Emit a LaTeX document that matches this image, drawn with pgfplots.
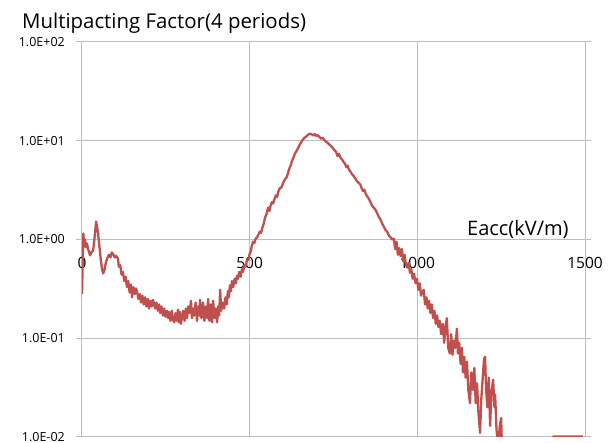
\documentclass[border=0pt]{standalone}
\usepackage{pgfplots}
\pgfplotsset{compat=1.18}
\usepackage{fontspec}
\setmainfont{Open Sans}
\definecolor{curve}{RGB}{192,80,77}
\definecolor{gridc}{RGB}{190,190,190}
\begin{document}
\begin{tikzpicture}
\begin{axis}[
  scale only axis, width=503pt, height=395pt,
  ymode=log, xmin=0, xmax=1500, ymin=0.01, ymax=100,
  xtick={0,500,1000,1500}, xticklabels={0,500,1000,1500},
  ytick={0.01,0.1,1,10,100},
  yticklabels={1.0E-02,1.0E-01,1.0E+00,1.0E+01,1.0E+02},
  minor ytick={}, yminorticks=false,
  grid=major, major grid style={gridc, line width=1pt},
  axis line style={gridc, line width=1pt},
  tick align=outside, major tick length=6pt,
  ytick style={gridc, line width=1pt},
  xtick style={draw=none},
  /pgf/number format/assume math mode=true,
  yticklabel style={font=\fontsize{12.5}{14}\selectfont, anchor=east, inner sep=0pt, xshift=-11pt},
  xticklabel style={font=\fontsize{15.5}{17}\selectfont, anchor=center, yshift=180pt},
  clip=true,
]
\addplot[curve, line width=2.3pt, line join=round] table {
x y
0 0.28
4 1.15
7 0.85
9 1.0
12 0.83
15 0.91
18 0.80
21 0.75
24 0.69
28 0.74
33 0.77
37 1.0
42 1.52
45 1.35
48 1.15
52 0.85
56 0.62
60 0.50
63 0.454
67 0.49
71 0.58
75 0.643
80 0.70
85 0.66
89 0.74
94 0.70
98 0.658
102 0.68
107 0.643
110 0.53
114 0.55
118 0.44
122 0.47
126 0.38
130 0.42
134 0.33
138 0.38
142 0.29
146 0.35
149 0.26
153 0.33
157 0.28
161 0.32
164 0.30
168 0.25
173 0.28
176 0.23
180 0.27
184 0.22
188 0.26
192 0.21
196 0.25
200 0.20
204 0.24
208 0.21
212 0.245
218 0.20
222 0.23
226 0.19
230 0.22
233 0.18
237 0.21
241 0.17
245 0.20
249 0.165
253 0.19
257 0.16
260 0.185
264 0.15
268 0.19
271 0.155
275 0.145
279 0.18
283 0.15
286 0.195
289 0.145
292 0.185
295 0.14
298 0.16
302 0.19
306 0.15
310 0.20
313 0.16
317 0.21
321 0.18
325 0.24
328 0.16
331 0.20
335 0.17
339 0.23
343 0.15
347 0.21
350 0.17
352 0.245
356 0.16
361 0.23
365 0.15
369 0.21
373 0.16
376 0.25
380 0.15
384 0.22
388 0.145
391 0.24
395 0.16
399 0.20
403 0.145
406 0.21
409 0.17
412 0.31
415 0.19
420 0.23
424 0.20
428 0.26
432 0.22
435 0.30
438 0.26
441 0.343
444 0.30
447 0.38
451 0.33
455 0.40
459 0.36
462 0.43
465 0.40
469 0.47
473 0.42
477 0.50
480 0.47
484 0.55
488 0.53
492 0.62
496 0.62
500 0.72
503 0.75
506 0.85
510 0.95
514 0.92
518 1.02
522 1.05
526 1.12
530 1.2
534 1.17
538 1.32
542 1.45
546 1.67
550 1.8
555 2.1
559 1.95
563 2.25
567 2.4
570 2.31
574 2.55
578 2.8
582 2.7
586 3.1
590 3.3
594 3.35
598 3.6
602 3.9
606 4.1
611 4.3
615 4.8
619 5.3
623 5.7
626 6.2
630 6.7
635 7.4
640 7.9
645 8.5
650 9.2
656 10.0
662 10.6
668 11.0
674 11.5
680 11.8
685 11.6
690 11.3
694 11.7
698 11.2
703 11.4
708 10.9
713 10.5
718 10.7
723 10.1
728 9.8
734 9.4
740 9.0
746 8.6
752 8.1
758 7.7
762 7.0
766 7.4
770 6.8
775 6.5
780 6.1
784 5.9
788 5.4
792 5.6
796 5.1
800 4.9
805 4.6
810 4.4
815 4.15
820 3.9
825 3.75
830 3.6
834 3.3
838 3.1
842 3.2
846 2.9
850 2.75
855 2.6
860 2.4
865 2.2
870 2.1
875 2.0
880 1.85
885 1.7
890 1.6
895 1.45
900 1.35
905 1.25
910 1.2
915 1.1
920 1.05
925 1.0
930 1.02
934 0.80
938 0.95
942 0.70
946 0.82
950 0.68
954 0.80
958 0.60
962 0.70
966 0.55
970 0.52
974 0.58
978 0.46
982 0.50
986 0.40
990 0.45
995 0.36
999 0.40
1003 0.31
1007 0.36
1011 0.27
1015 0.29
1019 0.31
1023 0.22
1027 0.26
1031 0.20
1035 0.24
1039 0.18
1043 0.22
1047 0.16
1051 0.19
1055 0.14
1059 0.17
1063 0.13
1067 0.15
1071 0.11
1076 0.14
1080 0.09
1084 0.13
1088 0.16
1092 0.08
1097 0.07
1101 0.11
1105 0.068
1109 0.095
1113 0.08
1118 0.125
1121 0.07
1125 0.09
1129 0.055
1133 0.08
1136 0.045
1140 0.065
1144 0.04
1148 0.058
1152 0.03
1157 0.022
1161 0.045
1166 0.03
1170 0.05
1174 0.022
1178 0.035
1182 0.018
1187 0.011
1191 0.025
1195 0.04
1199 0.062
1202 0.065
1205 0.03
1209 0.02
1213 0.04
1217 0.013
1221 0.028
1226 0.038
1230 0.02
1232 0.027
1236 0.012
1241 0.008
1246 0.013
1250 0.0156
1253 0.006
1260 0.005
1400 0.005
1405 0.0101
1494 0.0101
};
\coordinate (bl) at (rel axis cs:0,0);
\coordinate (tr) at (rel axis cs:1,1);
\node[anchor=base west, inner sep=0pt, font=\fontsize{20}{23}\selectfont, yshift=4pt] at (axis cs:1148,1) {Eacc(kV/m)};
\end{axis}
\node[anchor=base west, inner sep=0pt, font=\fontsize{20.4}{23}\selectfont] at ([shift={(-60pt,13pt)}]bl |- tr) {Multipacting Factor(4 periods)};
\pgfresetboundingbox
\path ([shift={(-82pt,-6pt)}]bl) rectangle ([shift={(30pt,42pt)}]tr);
\end{tikzpicture}
\end{document}
